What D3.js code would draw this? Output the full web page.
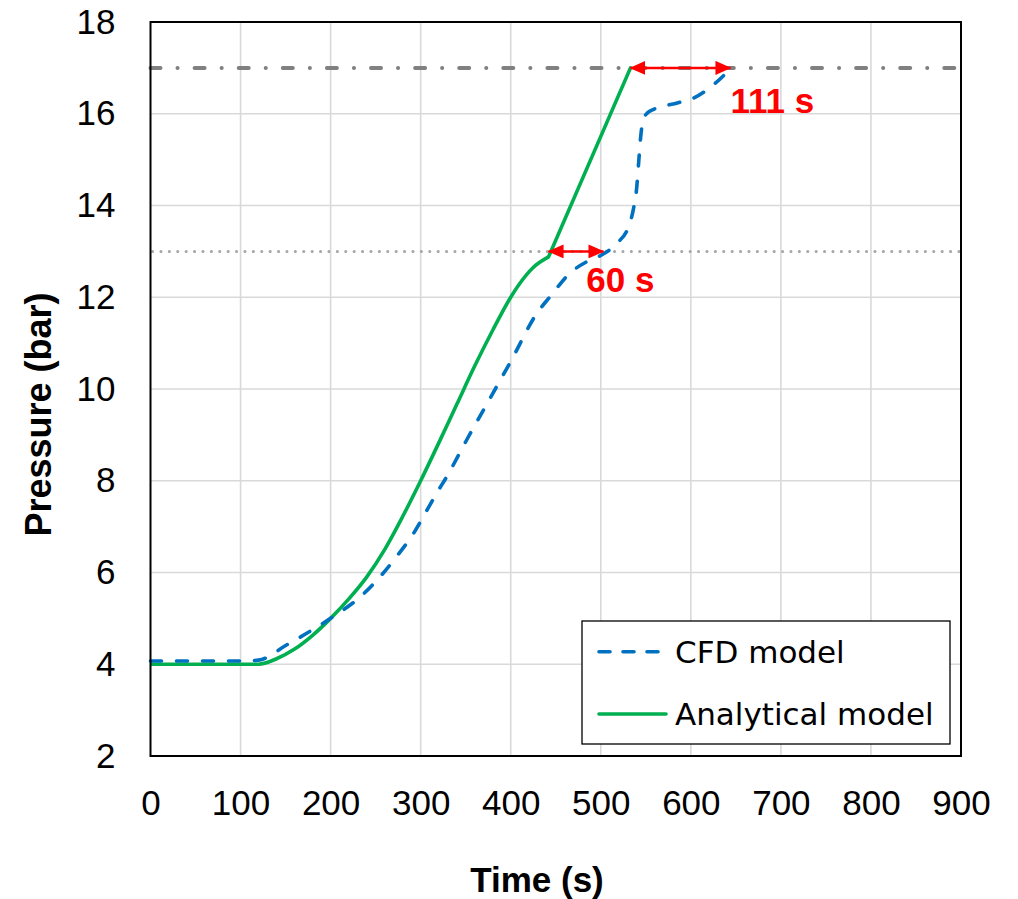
<!DOCTYPE html>
<html><head><meta charset="utf-8">
<script src="https://cdn.jsdelivr.net/npm/d3@7"></script>
<style>
html,body{margin:0;padding:0;background:#fff;}
svg{display:block;}
</style></head>
<body>
<svg id="chart" width="1018" height="899"></svg>
<script>
// ---- data ----
const xTicks = [0,100,200,300,400,500,600,700,800,900];
const yTicks = [2,4,6,8,10,12,14,16,18];
const seriesNames = ["CFD model","Analytical model"];
const cfdTime = [0,100,120,151,173,203,233,255,273,292,307,320,329,350,380,400,429,444,466,485,499,518,530,536,540,542,544,547,552,558,584,603,625,645];
const cfdPressure = [4.07,4.07,4.09,4.42,4.67,5.04,5.47,5.91,6.34,6.85,7.36,7.8,8.09,8.85,9.9,10.6,11.65,12.02,12.53,12.78,12.9,13.18,13.5,13.9,14.41,14.92,15.43,15.87,16.02,16.09,16.23,16.34,16.63,17.0];
const anaTime = [0,120,140,160,180,200,220,240,260,280,300,320,340,360,380,400,410,425,442];
const anaPressure = [4.0,4.0,4.12,4.33,4.63,5.0,5.42,5.9,6.5,7.22,8.0,8.82,9.66,10.5,11.28,12.0,12.3,12.65,12.88];
const anaRampTime = [442,533];
const anaRampPressure = [12.88,17.0];
const refLevels = [17,13];
const delayStart = [442,533];
const delayEnd = [503,644];
const delayLevel = [13,17];
const delayLabels = ["60 s","111 s"];
const delayLabelTime = [484,644];
const delayLabelPressure = [12.12,16.02];

// ---- layout ----
const svg = d3.select("#chart");
const x = d3.scaleLinear().domain([0,900]).range([150.5,961]);
const y = d3.scaleLinear().domain([2,18]).range([756,22]);
const FONT = "'Liberation Sans', Arial, sans-serif";

// grid
const grid = svg.append("g");
grid.selectAll("line.v").data(xTicks.slice(1,-1)).join("line")
  .attr("x1",d=>x(d)).attr("x2",d=>x(d)).attr("y1",y(2)).attr("y2",y(18))
  .attr("stroke","#d9d9d9").attr("stroke-width",1.6);
grid.selectAll("line.h").data(yTicks.slice(1,-1)).join("line")
  .attr("x1",x(0)).attr("x2",x(900)).attr("y1",d=>y(d)).attr("y2",d=>y(d))
  .attr("stroke","#d9d9d9").attr("stroke-width",1.6);

// axes
const xAxis = svg.append("g").attr("transform",`translate(0,${y(2)})`)
  .call(d3.axisBottom(x).tickValues(xTicks).tickSize(0).tickPadding(34).tickFormat(d3.format("d")));
const yAxis = svg.append("g").attr("transform",`translate(${x(0)},0)`)
  .call(d3.axisLeft(y).tickValues(yTicks).tickSize(0).tickPadding(35).tickFormat(d3.format("d")));
[xAxis,yAxis].forEach(a=>{
  a.select(".domain").remove();
  a.selectAll("text").attr("font-family",FONT).attr("font-size",35).attr("fill","#000");
});

// reference lines
svg.append("line").attr("x1",x(0)).attr("x2",x(900)).attr("y1",y(refLevels[0])).attr("y2",y(refLevels[0]))
  .attr("stroke","#808080").attr("stroke-width",4).attr("stroke-linecap","round")
  .attr("stroke-dasharray","10 17 0.1 17");
svg.append("line").attr("x1",x(0)+2).attr("x2",x(900)).attr("y1",y(refLevels[1])).attr("y2",y(refLevels[1]))
  .attr("stroke","#a6a6a6").attr("stroke-width",3).attr("stroke-linecap","round")
  .attr("stroke-dasharray","0.1 8.3");

// series
const cfd = cfdTime.map((t,i)=>[t,cfdPressure[i]]);
const ana = anaTime.map((t,i)=>[t,anaPressure[i]]);
const ramp = anaRampTime.map((t,i)=>[t,anaRampPressure[i]]);
const lineM = d3.line().x(d=>x(d[0])).y(d=>y(d[1])).curve(d3.curveMonotoneX);
const lineL = d3.line().x(d=>x(d[0])).y(d=>y(d[1]));
svg.append("path").attr("d",lineM(ana)).attr("fill","none").attr("stroke","#00b050").attr("stroke-width",3.6).attr("stroke-linejoin","round");
svg.append("path").attr("d",lineL(ramp)).attr("fill","none").attr("stroke","#00b050").attr("stroke-width",3.6).attr("stroke-linecap","round");
svg.append("path").attr("d",lineM(cfd)).attr("fill","none").attr("stroke","#0070c0").attr("stroke-width",3.6)
  .attr("stroke-linecap","round").attr("stroke-dasharray","11 15");

// arrows
const defs = svg.append("defs");
defs.append("marker").attr("id","ah").attr("viewBox","0 0 16 14").attr("refX",15).attr("refY",7)
  .attr("markerWidth",16).attr("markerHeight",14).attr("markerUnits","userSpaceOnUse")
  .attr("orient","auto-start-reverse")
  .append("path").attr("d","M0,0 L16,7 L0,14 Z").attr("fill","#ff0000");
delayStart.forEach((s,i)=>{
  svg.append("line").attr("x1",x(s)).attr("x2",x(delayEnd[i]))
    .attr("y1",y(delayLevel[i])).attr("y2",y(delayLevel[i]))
    .attr("stroke","#ff0000").attr("stroke-width",2.5)
    .attr("marker-start","url(#ah)").attr("marker-end","url(#ah)");
  svg.append("text").attr("x",x(delayLabelTime[i])).attr("y",y(delayLabelPressure[i]))
    .attr("font-family",FONT).attr("font-weight","bold").attr("font-size",35).attr("fill","#ff0000")
    .text(delayLabels[i]);
});

// frame
svg.append("rect").attr("x",x(0)).attr("y",y(18)).attr("width",x(900)-x(0)).attr("height",y(2)-y(18))
  .attr("fill","none").attr("stroke","#000").attr("stroke-width",2);

// legend
const lg = svg.append("g");
lg.append("rect").attr("x",582).attr("y",621).attr("width",368).attr("height",123)
  .attr("fill","#fff").attr("stroke","#000").attr("stroke-width",1.3);
const legY = [651.7,714];
const legStyle = [{c:"#0070c0",dash:"11 13"},{c:"#00b050",dash:null}];
seriesNames.forEach((n,i)=>{
  const l = lg.append("line").attr("x1",599).attr("x2",666).attr("y1",legY[i]).attr("y2",legY[i])
    .attr("stroke",legStyle[i].c).attr("stroke-width",3.6).attr("stroke-linecap","round");
  if(legStyle[i].dash) l.attr("stroke-dasharray",legStyle[i].dash);
  lg.append("text").attr("x",675).attr("y",legY[i]).attr("dy","0.36em")
    .attr("font-family","'DejaVu Sans', sans-serif").attr("font-size",31).attr("fill","#000").text(n);
});

// axis titles
svg.append("text").attr("x",537).attr("y",879).attr("dy","0.36em").attr("text-anchor","middle")
  .attr("font-family",FONT).attr("font-weight","bold").attr("font-size",35).text("Time (s)");
svg.append("text").attr("transform","translate(38,414.5) rotate(-90)").attr("dy","0.36em").attr("text-anchor","middle")
  .attr("font-family",FONT).attr("font-weight","bold").attr("font-size",36).text("Pressure (bar)");
</script>
</body></html>
